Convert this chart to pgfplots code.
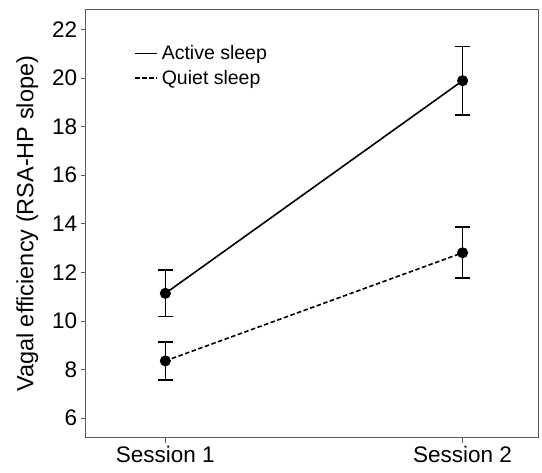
\documentclass[border=0pt]{standalone}
\usepackage{fontspec}
\setmainfont{Liberation Sans}
\usepackage{pgfplots}
\pgfplotsset{compat=1.18}
\begin{document}
\begin{tikzpicture}
\begin{axis}[
  scale only axis,
  width=453.3pt, height=427.7pt,
  xmin=0.732, xmax=2.257,
  ymin=5.2, ymax=22.8,
  xtick={1,2}, xticklabels={Session 1, Session 2},
  ytick={6,8,10,12,14,16,18,20,22},
  /pgf/number format/assume math mode=true,
  tick label style={font=\fontsize{22.5}{27}\selectfont, black},
  tick align=outside,
  major tick length=5pt,
  xtick pos=bottom, ytick pos=left,
  axis line style={black!65, line width=1pt},
  every tick/.style={black!65, line width=1pt},
  ylabel={Vagal efficiency (RSA-HP slope)},
  ylabel style={font=\fontsize{23.5}{28}\selectfont, at={(axis description cs:-0.1156,0.5)}, anchor=base, rotate=0},
  legend style={draw=none, fill=none, at={(axis description cs:0.1066,0.922)}, anchor=north west,
    font=\fontsize{19.5}{23}\selectfont, inner sep=0pt, row sep=5pt, column sep=2pt},
  legend cell align=left,
  legend image code/.code={\draw[#1, mark=none] (0pt,0pt) -- (22pt,0pt);},
]
\addplot[black, line width=1.6pt, mark=*, mark size=4.7pt, mark options={solid},
  error bars/.cd, y dir=both, y explicit,
  error bar style={line width=1.6pt, solid},
  error mark options={rotate=90, mark size=7.8pt, line width=1.6pt, solid}]
  coordinates {(1,11.14) +- (0,0.95) (2,19.89) +- (0,1.40)};
\addlegendentry{Active sleep}
\addplot[black, line width=1.6pt, dash pattern=on 4.5pt off 2.5pt, mark=*, mark size=4.7pt, mark options={solid},
  error bars/.cd, y dir=both, y explicit,
  error bar style={line width=1.6pt, solid},
  error mark options={rotate=90, mark size=7.8pt, line width=1.6pt, solid}]
  coordinates {(1,8.36) +- (0,0.78) (2,12.81) +- (0,1.05)};
\addlegendentry{Quiet sleep}
\end{axis}
\path (current axis.south west) ++(-85.7pt,-35.3pt) rectangle ++(542pt,473pt);
\end{tikzpicture}
\end{document}
